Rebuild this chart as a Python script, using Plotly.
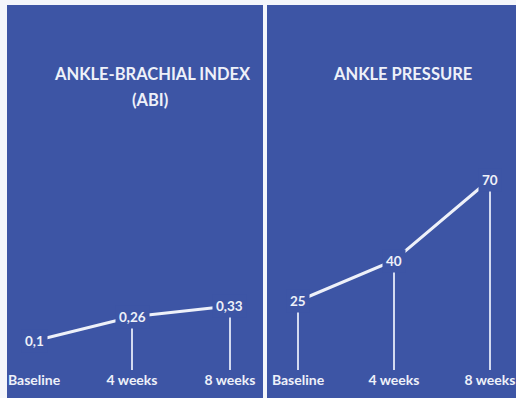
import plotly.graph_objects as go

# Canvas size
W, H = 516, 398

# Data
periods = ["Baseline", "4 weeks", "8 weeks"]
abi = [0.1, 0.26, 0.33]
abi_labels = ["0,1", "0,26", "0,33"]
pressure = [25, 40, 70]
pressure_labels = ["25", "40", "70"]
abi_stems = [False, True, True]
pressure_stems = [True, True, True]

# Style
BG = "#3D55A5"
INK = "#EEF1F9"
STEM = "#D3DAF0"
FONT = "Lato"

# Axis ranges chosen so both panels share the same baseline row
ABI_RANGE = [-0.0908, 2.343]
PRESS_RANGE = [-0.556, 136.48]


def fx(p):
    return p / W


def fy(p):
    return (H - p) / H


fig = go.Figure()

panels = [
    dict(vals=abi, labels=abi_labels, stems=abi_stems, xa="x", ya="y",
         yref="y", xref="x", ymin=ABI_RANGE[0]),
    dict(vals=pressure, labels=pressure_labels, stems=pressure_stems, xa="x2", ya="y2",
         yref="y2", xref="x2", ymin=PRESS_RANGE[0]),
]

annotations = []
for pnl in panels:
    xs = list(range(len(periods)))
    # vertical stems from the baseline up to each value
    for i, show in enumerate(pnl["stems"]):
        if show:
            fig.add_trace(go.Scatter(
                x=[i, i], y=[pnl["ymin"], pnl["vals"][i]],
                mode="lines", line=dict(color=STEM, width=2),
                xaxis=pnl["xa"], yaxis=pnl["ya"], hoverinfo="skip", showlegend=False))
    # connecting line
    fig.add_trace(go.Scatter(
        x=xs, y=pnl["vals"], mode="lines",
        line=dict(color=INK, width=3),
        xaxis=pnl["xa"], yaxis=pnl["ya"], hoverinfo="skip", showlegend=False))
    # value labels sitting on the points
    for i, (v, t) in enumerate(zip(pnl["vals"], pnl["labels"])):
        annotations.append(dict(
            x=i, y=v, xref=pnl["xref"], yref=pnl["yref"], text=t, showarrow=False,
            font=dict(family=FONT, size=13.5, color=INK, weight="bold"),
            bgcolor=BG, borderpad=3, xanchor="center", yanchor="middle"))

# Panel titles
title_font = dict(family=FONT, size=16.5, color=INK, weight="bold")
annotations += [
    dict(x=fx(152), y=fy(74), xref="paper", yref="paper", text="ANKLE-BRACHIAL INDEX",
         showarrow=False, font=title_font, xanchor="center", yanchor="middle"),
    dict(x=fx(150), y=fy(100), xref="paper", yref="paper", text="(ABI)",
         showarrow=False, font=title_font, xanchor="center", yanchor="middle"),
    dict(x=fx(402), y=fy(74), xref="paper", yref="paper", text="ANKLE PRESSURE",
         showarrow=False, font=title_font, xanchor="center", yanchor="middle"),
]

# Panel backgrounds
shapes = [
    dict(type="rect", xref="paper", yref="paper", x0=fx(7), x1=fx(263), y0=0, y1=fy(5),
         fillcolor=BG, line=dict(width=0), layer="below"),
    dict(type="rect", xref="paper", yref="paper", x0=fx(267), x1=1, y0=0, y1=fy(5),
         fillcolor=BG, line=dict(width=0), layer="below"),
]

xcommon = dict(tickmode="array", tickvals=[0, 1, 2], ticktext=periods, showgrid=False,
               zeroline=False, showline=False, ticks="", fixedrange=True,
               tickfont=dict(family=FONT, size=14, color=INK, weight="bold"))
ycommon = dict(visible=False, showgrid=False, zeroline=False, fixedrange=True)

fig.update_layout(
    width=W, height=H, margin=dict(l=0, r=0, t=0, b=0),
    paper_bgcolor="#F4F6FB", plot_bgcolor="rgba(0,0,0,0)",
    showlegend=False, shapes=shapes, annotations=annotations,
    xaxis=dict(domain=[fx(7), fx(263)], range=[-0.276, 2.337], anchor="y", **xcommon),
    yaxis=dict(domain=[28 / H, 1], range=ABI_RANGE, anchor="x", **ycommon),
    xaxis2=dict(domain=[fx(268), 1], range=[-0.3125, 2.271], anchor="y2", **xcommon),
    yaxis2=dict(domain=[28 / H, 1], range=PRESS_RANGE, anchor="x2", **ycommon),
)

fig.write_html("out.html", config=dict(displayModeBar=False))
